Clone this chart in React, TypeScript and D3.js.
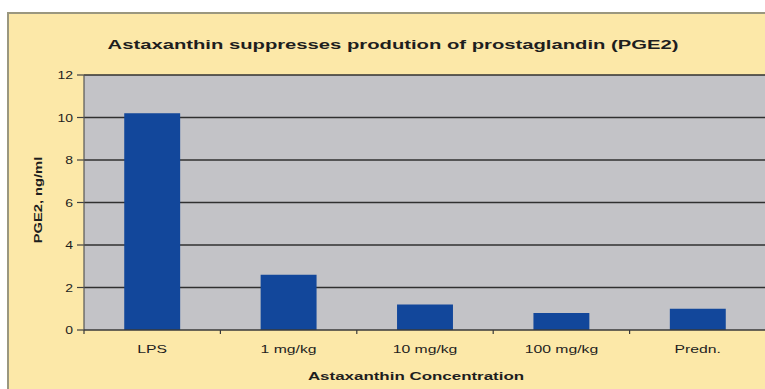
import React from "react";
import * as d3 from "d3";

// values
const categories = ["LPS", "1 mg/kg", "10 mg/kg", "100 mg/kg", "Predn."];
const pge2Values = [10.2, 2.6, 1.2, 0.8, 1.0];
const yTicks = [0, 2, 4, 6, 8, 10, 12];

const chartTitle = "Astaxanthin suppresses prodution of prostaglandin (PGE2)";
const xTitle = "Astaxanthin Concentration";
const yTitle = "PGE2, ng/ml";

const W = 765;
const H = 389;
const plot = { left: 84, right: 766, top: 75, bottom: 330 };

// the text in the original looks stretched sideways
const StretchText = ({ x, y, sx = 1.45, rotate = 0, anchor = "middle", size = 11, weight = "normal", children }: any) => (
  <text
    transform={`translate(${x},${y}) rotate(${rotate}) scale(${sx},1)`}
    textAnchor={anchor}
    fontSize={size}
    fontWeight={weight}
    fontFamily="Liberation Sans, Arial, sans-serif"
    fill="#1e1e1e"
  >
    {children}
  </text>
);

const App = () => {
  const x = d3.scaleBand().domain(categories).range([plot.left, plot.right]).paddingInner(0.59).paddingOuter(0.295);
  const xBand = d3.scaleBand().domain(categories).range([plot.left, plot.right]);
  const y = d3.scaleLinear().domain([0, 12]).range([plot.bottom, plot.top]);

  return (
    <svg width={W} height={H} style={{ position: "absolute", left: 0, top: 0 }}>
      <rect x={0} y={0} width={W} height={H} fill="#ffffff" />
      {/* chart area */}
      <rect x={8} y={13} width={W + 10} height={H} fill="#fce8a8" stroke="#9a977f" strokeWidth={2} />

      {/* plot area */}
      <rect x={plot.left} y={plot.top} width={plot.right - plot.left} height={plot.bottom - plot.top} fill="#c3c3c7" />

      {/* gridlines + y ticks */}
      {yTicks.map((t) => (
        <g key={t}>
          {t > 0 && (
            <line x1={plot.left} x2={plot.right} y1={y(t)} y2={y(t)} stroke="#303030" strokeWidth={1.5} />
          )}
          <line x1={plot.left - 7} x2={plot.left} y1={y(t)} y2={y(t)} stroke="#404040" strokeWidth={1.2} />
          <StretchText x={plot.left - 11} y={y(t) + 4} anchor="end" size={10} sx={1.4}>
            {t}
          </StretchText>
        </g>
      ))}
      <line x1={plot.left} x2={plot.left} y1={plot.top} y2={plot.bottom} stroke="#555" strokeWidth={1.2} />

      {/* bars */}
      {categories.map((c, i) => (
        <rect
          key={c}
          x={x(c)}
          y={y(pge2Values[i])}
          width={x.bandwidth()}
          height={y(0) - y(pge2Values[i])}
          fill="#12479b"
        />
      ))}

      {/* x axis */}
      <line x1={plot.left} x2={plot.right} y1={plot.bottom} y2={plot.bottom} stroke="#3a3a3a" strokeWidth={1.5} />
      {categories.map((c) => (
        <g key={c}>
          <line
            x1={xBand(c)}
            x2={xBand(c)}
            y1={plot.bottom}
            y2={plot.bottom + 4}
            stroke="#3a3a3a"
            strokeWidth={1.2}
          />
          <StretchText x={xBand(c)! + xBand.bandwidth() / 2} y={353} size={10.5} sx={1.5}>
            {c}
          </StretchText>
        </g>
      ))}

      {/* titles */}
      <StretchText x={393} y={49} size={13.5} weight="bold" sx={1.5}>
        {chartTitle}
      </StretchText>
      <StretchText x={416} y={380} size={11} weight="bold" sx={1.54}>
        {xTitle}
      </StretchText>
      <StretchText x={42} y={200} rotate={-90} size={10.5} weight="bold" sx={1.4}>
        {yTitle}
      </StretchText>
    </svg>
  );
};

export default App;
